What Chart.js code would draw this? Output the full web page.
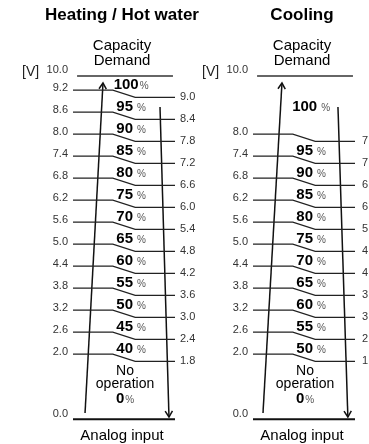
<!DOCTYPE html>
<html>
<head>
<meta charset="utf-8">
<script src="https://cdn.jsdelivr.net/npm/chart.js@4.4.0/dist/chart.umd.min.js"></script>
<style>
  html, body { margin: 0; padding: 0; background: #fff; }
  #wrap { position: relative; width: 369px; height: 444px; overflow: hidden; }
  #heatChart { position: absolute; left: 0; top: 0; }
  #coolChart { position: absolute; left: 195px; top: 0; }
</style>
</head>
<body>
<div id="wrap">
  <canvas id="heatChart" width="203" height="444"></canvas>
  <canvas id="coolChart" width="174" height="444"></canvas>
</div>
<script>
// Heating / Hot water: analog input level [V] -> capacity demand [%]
const heatInput  = [9.2, 8.6, 8.0, 7.4, 6.8, 6.2, 5.6, 5.0, 4.4, 3.8, 3.2, 2.6, 2.0];
const heatOutput = [9.0, 8.4, 7.8, 7.2, 6.6, 6.0, 5.4, 4.8, 4.2, 3.6, 3.0, 2.4, 1.8];
const heatDemand = [100, 95, 90, 85, 80, 75, 70, 65, 60, 55, 50, 45, 40];

// Cooling
const coolInput  = [8.0, 7.4, 6.8, 6.2, 5.6, 5.0, 4.4, 3.8, 3.2, 2.6, 2.0];
const coolOutput = [7.8, 7.2, 6.6, 6.0, 5.4, 4.8, 4.2, 3.6, 3.0, 2.4, 1.8];
const coolDemand = [100, 95, 90, 85, 80, 75, 70, 65, 60, 55, 50];

const scaleMax = 10.0;
const scaleMin = 0.0;
const offDemand = 0;

const FONT = "'Liberation Sans', Arial, sans-serif";
const DROP = 0.33;      // step down of the right half of each level line (rows)
const BOTTOM_ROW = 15.6;

// schematic row of a voltage (not to scale at the ends, like the original)
function rowOf(v) {
  if (v >= scaleMax) return 0;
  if (v <= scaleMin) return BOTTOM_ROW;
  return 0.64 + (heatInput[0] - v) / 0.6;
}

const diagramText = {
  id: 'diagramText',
  afterDatasetsDraw(chart, args, opts) {
    const { ctx, chartArea: a, scales: { x, y } } = chart;
    const cx = (a.left + a.right) / 2 - 2;
    ctx.save();

    // arrow heads
    chart.data.datasets.forEach((ds, i) => {
      if (!ds.arrow) return;
      const pts = chart.getDatasetMeta(i).data;
      const p1 = pts[pts.length - 2], p2 = pts[pts.length - 1];
      const ang = Math.atan2(p2.y - p1.y, p2.x - p1.x);
      ctx.strokeStyle = '#111';
      ctx.lineWidth = 1.5;
      ctx.beginPath();
      ctx.moveTo(p2.x - 7 * Math.cos(ang - 0.55), p2.y - 7 * Math.sin(ang - 0.55));
      ctx.lineTo(p2.x, p2.y);
      ctx.lineTo(p2.x - 7 * Math.cos(ang + 0.55), p2.y - 7 * Math.sin(ang + 0.55));
      ctx.stroke();
    });

    ctx.fillStyle = '#000';
    ctx.textAlign = 'center';
    ctx.textBaseline = 'alphabetic';
    ctx.font = 'bold 17px ' + FONT;
    ctx.fillText(opts.title, cx, 20);
    ctx.font = '15px ' + FONT;
    ctx.fillText('Capacity', cx, 50);
    ctx.fillText('Demand', cx, 65);
    ctx.fillText('Analog input', cx, 440);
    ctx.textAlign = 'left';
    ctx.font = '14px ' + FONT;
    ctx.fillStyle = '#222';
    ctx.fillText('[V]', a.left - 51, 76);

    // percent labels
    const inputs = opts.inputs, demand = opts.demand;
    const px = x.getPixelForValue(57);
    demand.forEach((d, k) => {
      const r = k === 0 ? rowOf(inputs[0]) / 2 : rowOf(inputs[k]) - 0.3;
      const yy = y.getPixelForValue(r) + 5.5;
      const gap = (k === 0 && opts.tightFirst) ? 1 : 4;
      drawPercent(ctx, d, px, yy, gap);
    });

    // no operation
    const ox = x.getPixelForValue(51);
    const base = y.getPixelForValue(rowOf(inputs[inputs.length - 1]));
    ctx.fillStyle = '#000';
    ctx.textAlign = 'center';
    ctx.font = '14px ' + FONT;
    ctx.fillText('No', ox, base + 21);
    ctx.fillText('operation', ox, base + 34);
    drawPercent(ctx, offDemand, ox, base + 49, 1);
    ctx.restore();
  }
};

function drawPercent(ctx, val, cx, baseY, gap) {
  ctx.font = 'bold 15px ' + FONT;
  const num = String(val);
  const wn = ctx.measureText(num).width;
  ctx.font = '10px ' + FONT;
  const wp = ctx.measureText('%').width;
  const x0 = cx - (wn + gap + wp) / 2;
  ctx.textAlign = 'left';
  ctx.fillStyle = '#000';
  ctx.font = 'bold 15px ' + FONT;
  ctx.fillText(num, x0, baseY);
  ctx.fillStyle = '#555';
  ctx.font = '10px ' + FONT;
  ctx.fillText('%', x0 + wn + gap, baseY);
}

function buildChart(canvasId, cfg) {
  const { inputs, outputs, demand, arrows, leftW, rightW } = cfg;
  const datasets = [];
  datasets.push({ data: [{ x: 4, y: rowOf(scaleMax) }, { x: 98, y: rowOf(scaleMax) }], borderColor: '#666', borderWidth: 2 });
  datasets.push({ data: [{ x: 0, y: rowOf(scaleMin) }, { x: 100, y: rowOf(scaleMin) }], borderColor: '#111', borderWidth: 2 });
  inputs.forEach(v => {
    const r = rowOf(v);
    datasets.push({
      data: [{ x: 0, y: r }, { x: 39, y: r }, { x: 61, y: r + DROP }, { x: 100, y: r + DROP }],
      borderColor: '#222', borderWidth: 1.2
    });
  });
  arrows.forEach(ar => {
    datasets.push({
      data: [{ x: ar.from[0], y: ar.from[1] }, { x: ar.to[0], y: ar.to[1] }],
      borderColor: '#111', borderWidth: 1.5, arrow: true
    });
  });

  const leftVals = [rowOf(scaleMax) - 0.27, ...inputs.map(v => rowOf(v) - 0.08), rowOf(scaleMin) - 0.25];
  const leftLabels = [scaleMax, ...inputs, scaleMin].map(v => v.toFixed(1));
  const rightVals = inputs.map(v => rowOf(v) + DROP);
  const rightLabels = outputs.map(v => v.toFixed(1));

  const axisBase = {
    type: 'linear', reverse: true, min: -0.5, max: 16,
    grid: { display: false, drawTicks: false },
    border: { display: false }
  };

  return new Chart(document.getElementById(canvasId), {
    type: 'line',
    data: { datasets },
    options: {
      responsive: false,
      animation: false,
      events: [],
      layout: { padding: { top: 65, bottom: 16, left: 0, right: 0 } },
      elements: { point: { radius: 0 }, line: { tension: 0 } },
      plugins: {
        legend: { display: false },
        tooltip: { enabled: false },
        diagramText: { title: cfg.title, inputs, demand, tightFirst: cfg.tightFirst }
      },
      scales: {
        x: { type: 'linear', min: 0, max: 100, display: false },
        y: {
          ...axisBase, position: 'left',
          afterFit: s => { s.width = leftW; },
          afterBuildTicks: s => { s.ticks = leftVals.map(v => ({ value: v })); },
          ticks: { autoSkip: false, padding: 5, color: '#333', font: { family: FONT, size: 11 },
                   callback: (v, i) => leftLabels[i] }
        },
        y2: {
          ...axisBase, position: 'right',
          afterFit: s => { s.width = rightW; },
          afterBuildTicks: s => { s.ticks = rightVals.map(v => ({ value: v })); },
          ticks: { autoSkip: false, padding: cfg.rightPad, color: '#333', font: { family: FONT, size: 11 },
                   callback: (v, i) => rightLabels[i] }
        }
      }
    },
    plugins: [diagramText]
  });
}

buildChart('heatChart', {
  title: 'Heating / Hot water',
  inputs: heatInput, outputs: heatOutput, demand: heatDemand,
  leftW: 73, rightW: 28, rightPad: 5, tightFirst: true,
  arrows: [
    { from: [11.8, 15.32], to: [29.4, 0.32] },
    { from: [85.3, 1.41], to: [94.1, 15.5] }
  ]
});

buildChart('coolChart', {
  title: 'Cooling',
  inputs: coolInput, outputs: coolOutput, demand: coolDemand,
  leftW: 58, rightW: 14, rightPad: 7, tightFirst: false,
  arrows: [
    { from: [9.8, 15.32], to: [28.4, 0.32] },
    { from: [83.3, 1.41], to: [93.0, 15.5] }
  ]
});
</script>
</body>
</html>
